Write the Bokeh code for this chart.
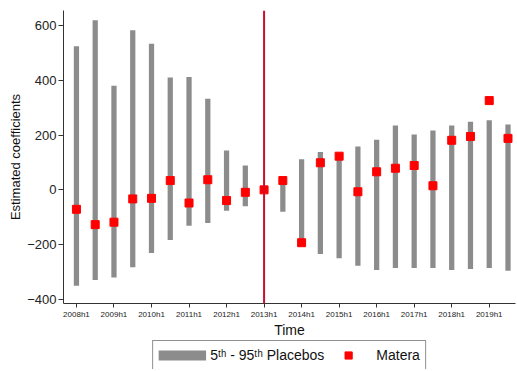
from bokeh.plotting import figure
from bokeh.layouts import column
from bokeh.models import (FixedTicker, Span, Legend, LegendItem, ColumnDataSource)
from bokeh.embed import file_html
from bokeh.resources import INLINE

periods = ["2008h1", "2008h2", "2009h1", "2009h2", "2010h1", "2010h2",
           "2011h1", "2011h2", "2012h1", "2012h2", "2013h1", "2013h2",
           "2014h1", "2014h2", "2015h1", "2015h2", "2016h1", "2016h2",
           "2017h1", "2017h2", "2018h1", "2018h2", "2019h1", "2019h2"]
placebo_p95 = [524, 619, 380, 583, 534, 410, 412, 333, 144, 89, float("nan"), 30,
               112, 138, 120, 158, 183, 235, 202, 217, 235, 249, 254, 239]
placebo_p5 = [-350, -329, -320, -283, -231, -183, -131, -121, -76, -60, float("nan"), -80,
              -185, -234, -250, -277, -293, -285, -285, -285, -293, -289, -285, -295]
matera = [-71, -127, -118, -33, -31, 34, -48, 37, -39, -9, 0, 34,
          -193, 99, 123, -7, 66, 79, 89, 15, 181, 195, 326, 188]
y_ticks = [-400, -200, 0, 200, 400, 600]
treatment_period = "2013h1"

idx = list(range(len(periods)))
src = ColumnDataSource(dict(x=idx, lo=placebo_p5, hi=placebo_p95, m=matera))

FONT = "Liberation Sans"
GRAY = "#8c8c8c"
RED = "#ff0000"

p = figure(width=516, height=340, output_backend="svg", toolbar_location=None,
           x_range=(-0.69, 23.4), y_range=(-415, 655),
           min_border_top=10, min_border_right=1, min_border_left=63, min_border_bottom=30)
p.outline_line_color = None
p.xgrid.grid_line_color = None
p.ygrid.grid_line_color = None
p.background_fill_color = "white"

p.vbar(x="x", bottom="lo", top="hi", width=0.28, source=src,
       fill_color=GRAY, line_color=None)
p.scatter(x="x", y="m", source=src, marker="square", size=8,
          fill_color=RED, line_color=RED)

p.add_layout(Span(location=periods.index(treatment_period), dimension="height",
                  line_color="#c8102e", line_width=2))

# axes
p.yaxis.ticker = FixedTicker(ticks=y_ticks)
p.yaxis.axis_label = "Estimated coefficients"
p.yaxis.axis_label_text_font = FONT
p.yaxis.axis_label_text_font_size = "13px"
p.yaxis.axis_label_text_font_style = "normal"
p.yaxis.axis_label_standoff = 1
p.yaxis.major_label_text_font = FONT
p.yaxis.major_label_text_font_size = "13px"
p.yaxis.major_label_standoff = 2
p.yaxis.major_tick_out = 5
p.yaxis.major_tick_in = 0
p.yaxis.minor_tick_line_color = None

p.xaxis.ticker = FixedTicker(ticks=idx[::2])
p.xaxis.major_label_overrides = {i: periods[i] for i in idx[::2]}
p.xaxis.axis_label = "Time"
p.xaxis.axis_label_text_font = FONT
p.xaxis.axis_label_text_font_size = "14px"
p.xaxis.axis_label_text_font_style = "normal"
p.xaxis.axis_label_standoff = 0
p.xaxis.major_label_text_font = FONT
p.xaxis.major_label_text_font_size = "8px"
p.xaxis.major_label_standoff = 2
p.xaxis.major_tick_out = 4
p.xaxis.major_tick_in = 0
p.xaxis.minor_tick_line_color = None

for ax in (p.xaxis, p.yaxis):
    ax.axis_line_color = "#333333"
    ax.major_tick_line_color = "#333333"
    ax.major_label_text_color = "#222222"
    ax.axis_label_text_color = "#111111"

# legend strip below the chart
lg = figure(width=516, height=29, output_backend="svg", toolbar_location=None,
            x_axis_type=None, y_axis_type=None, x_range=(0, 1), y_range=(0, 1),
            min_border_top=0, min_border_bottom=0, min_border_left=63, min_border_right=1)
lg.outline_line_color = None
lg.xgrid.grid_line_color = None
lg.ygrid.grid_line_color = None
proxy_band = lg.line(x=[float("nan")], y=[float("nan")], line_width=10, line_color=GRAY)
proxy_pt = lg.scatter(x=[float("nan")], y=[float("nan")], marker="square",
                      fill_color=RED, line_color=RED)

legend = Legend(items=[LegendItem(label="5ᵗʰ - 95ᵗʰ Placebos", renderers=[proxy_band]),
                       LegendItem(label="Matera", renderers=[proxy_pt])],
                orientation="horizontal", location="center",
                glyph_width=48, glyph_height=18, label_standoff=4, spacing=0,
                padding=5, margin=0,
                label_text_font=FONT, label_text_font_size="14px",
                label_text_color="#111111",
                border_line_color="#222222", border_line_width=1,
                background_fill_alpha=1)
lg.add_layout(legend, "center")

layout = column(p, lg, spacing=0)
open("out.html", "w").write(file_html(layout, INLINE))
